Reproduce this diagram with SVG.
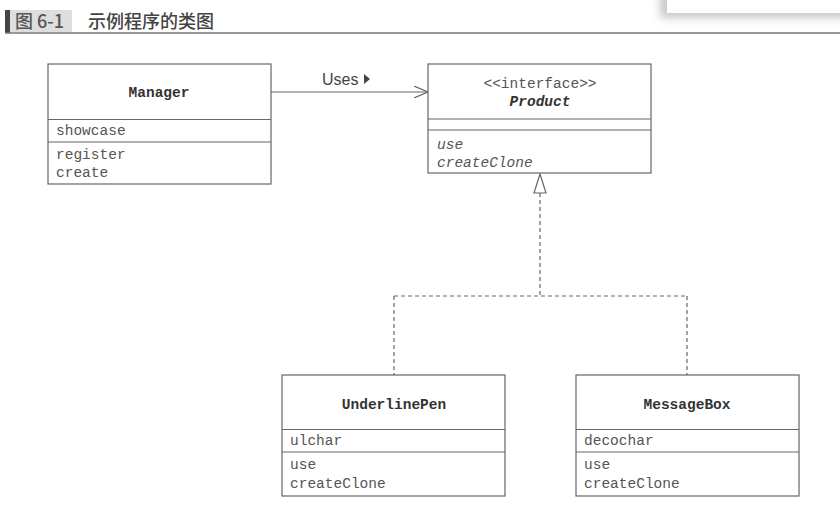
<svg xmlns="http://www.w3.org/2000/svg" width="840" height="511" viewBox="0 0 840 511">
<style>
.box{fill:#fff;stroke:#666;stroke-width:1.2}
.div{stroke:#666;stroke-width:1.2}
.name{font-family:"Liberation Mono",monospace;font-weight:bold;font-size:14.5px;fill:#333;text-anchor:middle}
.mem{font-family:"Liberation Mono",monospace;font-size:14.5px;fill:#555}
.it{font-style:italic}
.conn{fill:none;stroke:#666;stroke-width:1.2}
.dash{stroke-dasharray:4 3}
.hd{font-family:"Noto Sans CJK SC",sans-serif;font-size:18px;font-weight:500}
</style>
<defs>
<filter id="sh" x="-20%" y="-100%" width="140%" height="300%"><feGaussianBlur stdDeviation="4"/></filter>
<marker id="open" markerWidth="16" markerHeight="12" refX="14" refY="6" orient="auto" markerUnits="userSpaceOnUse"><path d="M0,0 L14,6 L0,12" fill="none" stroke="#666" stroke-width="1.2"/></marker>
</defs>
<rect width="840" height="511" fill="#fff"/>
<g id="header">
<rect x="660" y="-6" width="190" height="24" fill="#c8c8c8" filter="url(#sh)"/>
<rect x="667" y="-2" width="175" height="15" fill="#fff"/>
<rect x="10" y="10" width="62" height="22" fill="#dedede"/>
<rect x="5" y="10" width="5" height="23" fill="#444"/>
<line x1="5" y1="33" x2="840" y2="33" stroke="#777" stroke-width="1.6"/>
<text class="hd" x="15" y="28" fill="#555">图 6-1</text>
<text class="hd" x="88" y="28" fill="#444">示例程序的类图</text>
</g>
<g id="connectors">
<line class="conn" x1="271" y1="92" x2="428" y2="92" marker-end="url(#open)"/>
<text x="322" y="85" font-family="'Liberation Sans',sans-serif" font-size="16" fill="#444">Uses</text>
<path d="M364,74 L370,79 L364,84 Z" fill="#444"/>
<path class="conn dash" d="M540,193 V296 M394,296 H687 M394,296 V375 M687,296 V375"/>
<path d="M540,174 L546,193 L534,193 Z" fill="#fff" stroke="#666" stroke-width="1.2"/>
</g>
<g id="Manager">
<rect class="box" x="48" y="64" width="223" height="120"/>
<line class="div" x1="48" y1="119.5" x2="271" y2="119.5"/>
<line class="div" x1="48" y1="142" x2="271" y2="142"/>
<text class="name" x="159" y="97">Manager</text>
<text class="mem" x="56" y="135">showcase</text>
<text class="mem" x="56" y="159">register</text>
<text class="mem" x="56" y="177">create</text>
</g>
<g id="Product">
<rect class="box" x="428" y="64" width="223" height="109"/>
<line class="div" x1="428" y1="119" x2="651" y2="119"/>
<line class="div" x1="428" y1="130" x2="651" y2="130"/>
<text class="mem" x="540" y="88" text-anchor="middle">&lt;&lt;interface&gt;&gt;</text>
<text class="name it" x="540" y="106">Product</text>
<text class="mem it" x="437" y="149">use</text>
<text class="mem it" x="437" y="167">createClone</text>
</g>
<g id="UnderlinePen">
<rect class="box" x="282" y="375" width="223" height="121"/>
<line class="div" x1="282" y1="429.5" x2="505" y2="429.5"/>
<line class="div" x1="282" y1="452" x2="505" y2="452"/>
<text class="name" x="394" y="409">UnderlinePen</text>
<text class="mem" x="290" y="445">ulchar</text>
<text class="mem" x="290" y="469">use</text>
<text class="mem" x="290" y="488">createClone</text>
</g>
<g id="MessageBox">
<rect class="box" x="576" y="375" width="223" height="121"/>
<line class="div" x1="576" y1="429.5" x2="799" y2="429.5"/>
<line class="div" x1="576" y1="452" x2="799" y2="452"/>
<text class="name" x="687" y="409">MessageBox</text>
<text class="mem" x="584" y="445">decochar</text>
<text class="mem" x="584" y="469">use</text>
<text class="mem" x="584" y="488">createClone</text>
</g>
</svg>
